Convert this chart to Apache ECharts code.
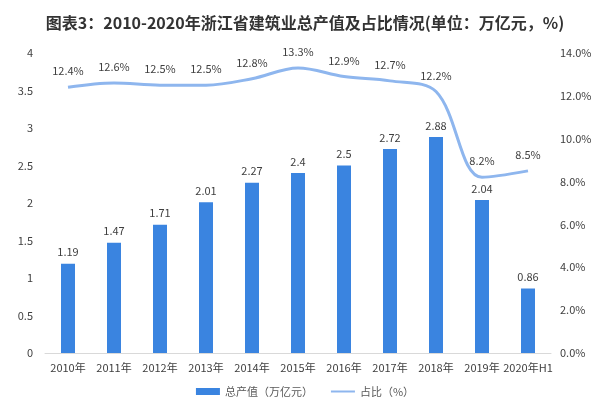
<!DOCTYPE html>
<html><head><meta charset="utf-8">
<script src="https://cdn.jsdelivr.net/npm/echarts@6/dist/echarts.min.js"></script>
<style>html,body{margin:0;padding:0;background:#fff}#c{width:610px;height:408px}</style>
</head><body><div id="c"></div>
<script>
var categories = ['2010年','2011年','2012年','2013年','2014年','2015年','2016年','2017年','2018年','2019年','2020年H1'];
var outputValues = [1.19,1.47,1.71,2.01,2.27,2.4,2.5,2.72,2.88,2.04,0.86];
var shareValues = [12.4,12.6,12.5,12.5,12.8,13.3,12.9,12.7,12.2,8.2,8.5];
var leftTicks = {min:0,max:4,interval:0.5};
var rightTicks = {min:0,max:14,interval:2};

var chart = echarts.init(document.getElementById('c'));
var ff = '"Noto Sans CJK SC", "Liberation Sans", sans-serif';
chart.setOption({
  animation:false,
  textStyle:{fontFamily:ff},
  title:{text:'图表3：2010-2020年浙江省建筑业总产值及占比情况(单位：万亿元，%)',left:'center',top:10,
    textStyle:{fontSize:16,fontWeight:'bold',color:'#333',fontFamily:ff}},
  grid:{left:45,right:59,top:53,bottom:55},
  legend:{bottom:6,itemGap:18,itemWidth:24,itemHeight:7,textStyle:{fontSize:11,color:'#595959'},
    data:[{name:'总产值（万亿元）',icon:'rect'},
          {name:'占比（%）',icon:'path://M0,0L0,0M0,2.5L24,2.5L24,4.5L0,4.5ZM24,7L24,7',itemStyle:{color:'#8EB6EE',opacity:1}}]},
  xAxis:{type:'category',data:categories,axisTick:{show:false},
    axisLine:{lineStyle:{color:'#d9d9d9'}},
    axisLabel:{color:'#404040',fontSize:11,margin:9,interval:0}},
  yAxis:[
    {type:'value',min:leftTicks.min,max:leftTicks.max,interval:leftTicks.interval,splitLine:{show:false},
     axisLine:{show:false},axisTick:{show:false},axisLabel:{color:'#404040',fontSize:11,margin:12}},
    {type:'value',min:rightTicks.min,max:rightTicks.max,interval:rightTicks.interval,splitLine:{show:false},
     axisLine:{show:false},axisTick:{show:false},
     axisLabel:{color:'#404040',fontSize:11,margin:9,formatter:function(v){return v.toFixed(1)+'%';}}}
  ],
  series:[
    {name:'总产值（万亿元）',type:'bar',data:outputValues,barWidth:14,yAxisIndex:0,
     itemStyle:{color:'#3A84E0'},
     label:{show:true,position:'top',distance:6,color:'#404040',fontSize:11}},
    {name:'占比（%）',type:'line',data:shareValues,yAxisIndex:1,smooth:0.35,showSymbol:true,symbol:'circle',symbolSize:1,
     lineStyle:{color:'#8EB6EE',width:3},itemStyle:{color:'rgba(142,182,238,0)',borderWidth:0},
     label:{show:true,position:'top',distance:10,color:'#404040',fontSize:11,formatter:function(p){return p.value.toFixed(1)+'%';}}}
  ]
});
</script></body></html>
